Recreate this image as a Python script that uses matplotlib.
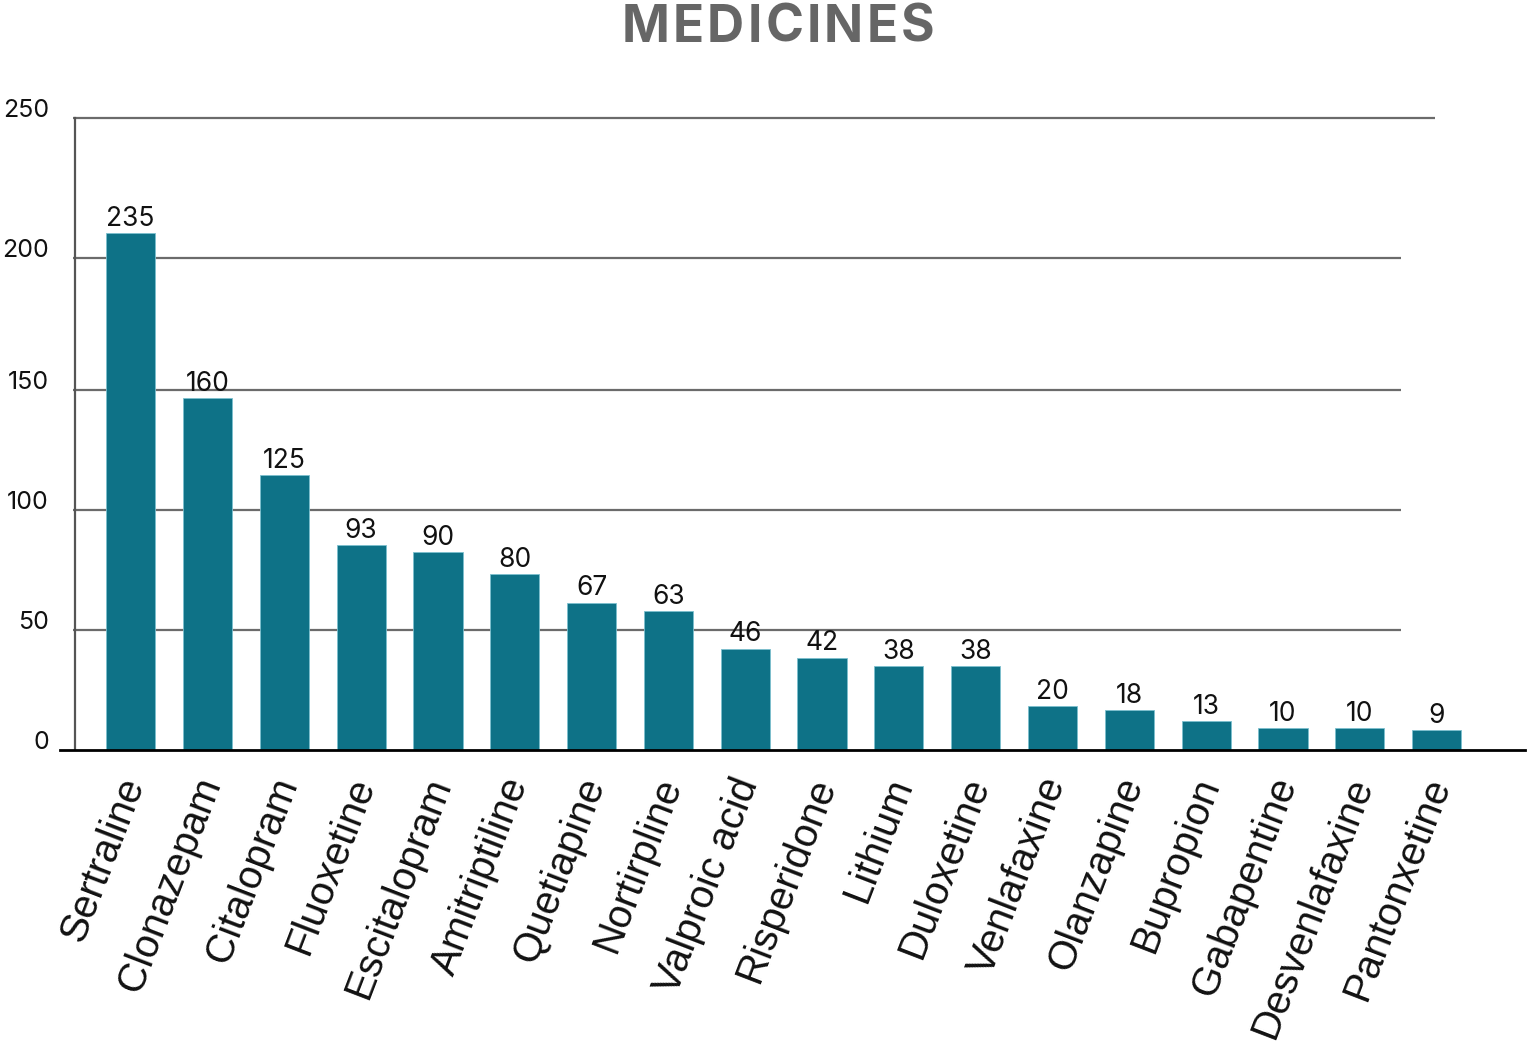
import matplotlib.pyplot as plt
from matplotlib.transforms import blended_transform_factory

###########################################################
# data

medicines = ['Sertraline', 'Clonazepam', 'Citalopram', 'Fluoxetine', 'Escitalopram',
             'Amitriptiline', 'Quetiapine', 'Nortirpline', 'Valproic acid', 'Risperidone',
             'Lithium', 'Duloxetine', 'Venlafaxine', 'Olanzapine', 'Bupropion',
             'Gabapentine', 'Desvenlafaxine', 'Pantonxetine']
counts = [235, 160, 125, 93, 90, 80, 67, 63, 46, 42, 38, 38, 20, 18, 13, 10, 10, 9]

# the axis labels of the original sit at uneven heights
tick_labels = ['0', '50', '100', '150', '200', '250']
tick_pos = [0, 54.5, 109, 163.6, 223.6, 287.3]

title = 'MEDICINES'

###########################################################
# styles

bar_color = '#0e7287'
grid_color = '#6b6b6b'
W, H = 1532, 1051
px_per_unit = 2.2

fig = plt.figure(figsize=(W/100, H/100), dpi=100)
# axes placed in pixel units: x 60..1525, y 110..750
ax = fig.add_axes([60/W, (H-750)/H, (1525-60)/W, (750-110)/H])
ax.set_xlim(-0.92, 18.15)
ax.set_ylim(0, (750-110)/px_per_unit)
ax.axis('off')

x = list(range(len(medicines)))

# grid lines (the top one runs a bit longer)
for i, yp in enumerate(tick_pos[1:]):
    xend = 16.98 if i == len(tick_pos) - 2 else 16.54
    ax.plot([-0.75, xend], [yp, yp], color=grid_color, lw=1.6, zorder=1,
            solid_capstyle='butt')

# vertical axis and baseline
ax.plot([-0.73, -0.73], [0, tick_pos[-1]], color='#555555', lw=1.6, zorder=2)
ax.plot([-0.92, 18.15], [0, 0], color='black', lw=2, zorder=3, clip_on=False)

bars = ax.bar(x, counts, width=0.64, color=bar_color, edgecolor='#7cc0cf',
              linewidth=0.6, zorder=2)

# value labels
for xi, c in zip(x, counts):
    ax.annotate(str(c), (xi, c), xytext=(0, 1), textcoords='offset points',
                ha='center', va='bottom', fontsize=19, family='Inter',
                color='#111111')

# y tick labels, right aligned near the left edge
trans = blended_transform_factory(fig.transFigure, ax.transData)
for lab, yp in zip(tick_labels, tick_pos):
    ax.text(49/W, yp + 0.5, lab, transform=trans, ha='right', va='baseline',
            fontsize=18, family='Inter', color='#111111')

# rotated category labels
for xi, name in zip(x, medicines):
    ax.annotate(name, (xi, 0), xytext=(-15, -22), textcoords='offset pixels',
                ha='right', va='top', rotation=69, rotation_mode='anchor',
                fontsize=29, family='Liberation Sans', color='#111111')

###########################################################
# title with letter spacing

renderer = fig.canvas.get_renderer()
title_kw = dict(fontsize=37, family='Inter', fontweight='bold', color='#666666')
widths = []
for ch in title:
    t = fig.text(0, 0, ch, **title_kw)
    widths.append(t.get_window_extent(renderer).width)
    t.remove()
target_w = 313
gap = (target_w - sum(widths)) / (len(title) - 1)
xpos = 778 - target_w / 2
for ch, w in zip(title, widths):
    fig.text(xpos/W, 1 - 42/H, ch, ha='left', va='baseline', **title_kw)
    xpos += w + gap

plt.savefig('out.png', dpi=100)
